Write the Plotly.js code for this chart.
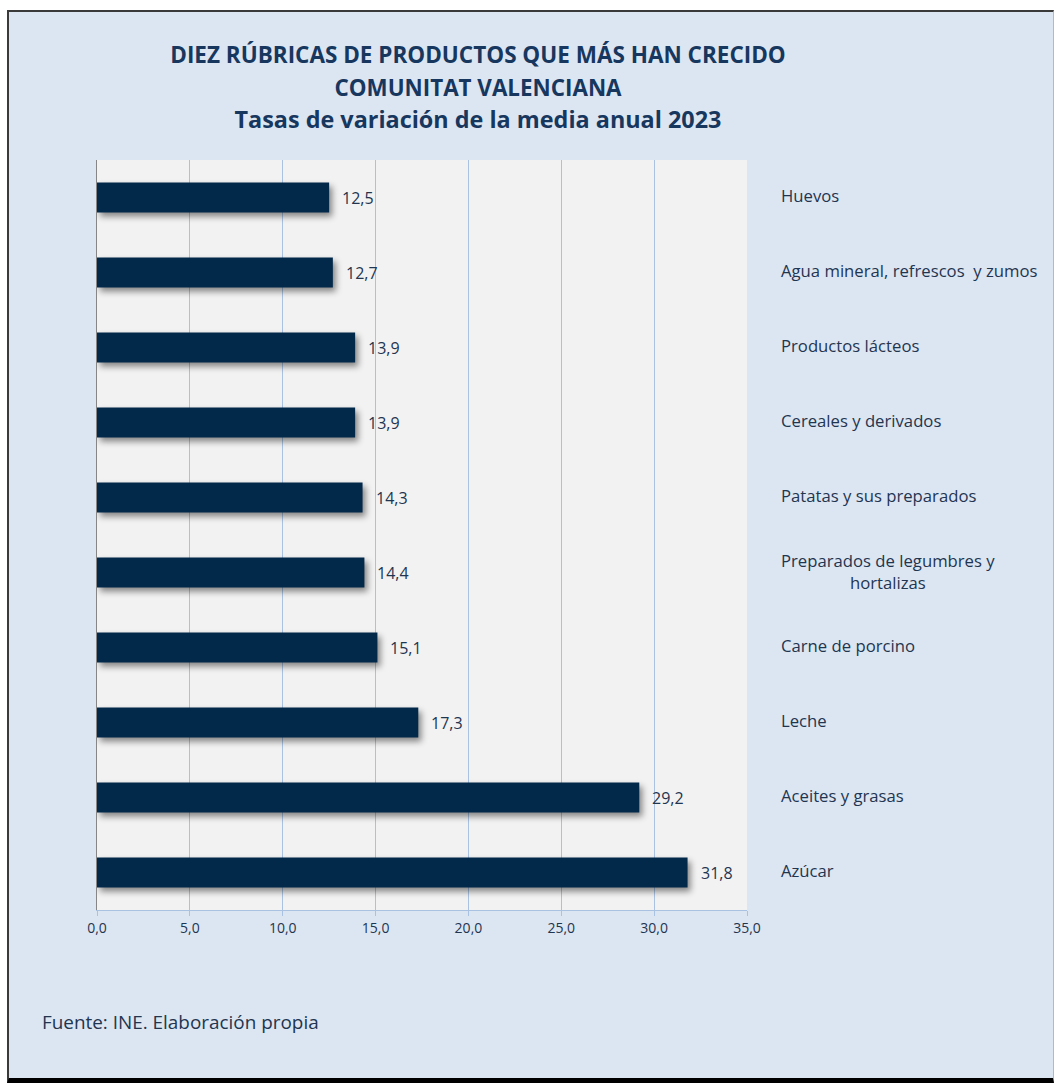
<!DOCTYPE html>
<html>
<head>
<meta charset="utf-8">
<script src="https://cdn.plot.ly/plotly-3.0.1.min.js"></script>
<style>
  html, body { margin: 0; padding: 0; background: #ffffff; }
  #frame {
    position: absolute; left: 7px; top: 10px; width: 1044px; height: 1066px;
    background: #dce6f2;
    border-top: 2px solid #3a3a3a; border-left: 2px solid #3a3a3a;
    border-right: 1px solid #b8b8b8; border-bottom: 5px solid #000000;
  }
  #chart { position: absolute; left: 0; top: 0; width: 1054px; height: 1084px; }
  #chart .barlayer .point path { filter: drop-shadow(3px 4px 3px rgba(0,0,0,0.45)); }
</style>
</head>
<body>
<div id="frame"></div>
<div id="chart"></div>
<script>
// Data (top to bottom as shown)
const categories = [
  "Huevos",
  "Agua mineral, refrescos  y zumos",
  "Productos lácteos",
  "Cereales y derivados",
  "Patatas y sus preparados",
  "Preparados de legumbres y<br>hortalizas",
  "Carne de porcino",
  "Leche",
  "Aceites y grasas",
  "Azúcar"
];
const values = [12.5, 12.7, 13.9, 13.9, 14.3, 14.4, 15.1, 17.3, 29.2, 31.8];
const tickVals = [0, 5, 10, 15, 20, 25, 30, 35];
const tickLabels = ["0,0", "5,0", "10,0", "15,0", "20,0", "25,0", "30,0", "35,0"];

const titleLines = [
  "DIEZ RÚBRICAS DE PRODUCTOS QUE MÁS HAN CRECIDO",
  "COMUNITAT VALENCIANA",
  "Tasas de variación de la media anual 2023"
];
const titleSizes = [22.5, 22.4, 23.4];
const sourceText = "Fuente: INE. Elaboración propia";

const FONT = "'Open Sans', Lato, sans-serif";
const TXT = "#1f3550";

const fmt = v => v.toFixed(1).replace(".", ",");

const trace = {
  type: "bar",
  orientation: "h",
  x: values,
  y: categories,
  width: 0.4,
  marker: { color: "#03294a", line: { width: 0 } },
  hoverinfo: "x+y",
  cliponaxis: false
};

const annotations = [];
values.forEach((v, i) => {
  annotations.push({
    x: v, y: categories[i], xref: "x", yref: "y",
    text: fmt(v), showarrow: false, xanchor: "left", yanchor: "middle",
    xshift: 11, font: { family: FONT, size: 16, color: TXT }
  });
});
categories.forEach((c, i) => {
  const multi = c.indexOf("<br>") >= 0;
  annotations.push({
    x: 1, y: c, xref: "paper", yref: "y",
    text: c, showarrow: false, xanchor: "left", yanchor: "middle",
    align: multi ? "center" : "left",
    xshift: 32, yshift: multi ? 1 : 2,
    font: { family: FONT, size: 16.7, color: TXT }
  });
});
annotations.push({
  x: -57 / 650, y: -112 / 750, xref: "paper", yref: "paper",
  text: sourceText, showarrow: false, xanchor: "left", yanchor: "middle",
  font: { family: FONT, size: 18.9, color: TXT }
});

const layout = {
  width: 1054, height: 1084,
  paper_bgcolor: "rgba(0,0,0,0)",
  plot_bgcolor: "#f2f2f2",
  margin: { l: 97, r: 307, t: 160, b: 174, pad: 0 },
  showlegend: false,
  title: {
    text: titleLines.map((t, i) => "<span style='font-size:" + titleSizes[i] + "px'>" + t + "</span>").join("<br>"),
    font: { family: FONT, size: 25, color: "#17375e", weight: "bold" },
    x: 478 / 1054, xanchor: "center", xref: "container",
    y: 1 - 63 / 1084, yanchor: "top", yref: "container"
  },
  xaxis: {
    range: [0, 35],
    tickvals: tickVals,
    ticktext: tickLabels,
    showgrid: true, gridcolor: "#a9c2e2", gridwidth: 1,
    zeroline: false,
    showline: true, linecolor: "#a9c2e2", linewidth: 1,
    ticks: "outside", ticklen: 5, tickcolor: "#a9c2e2",
    tickfont: { family: FONT, size: 14, color: TXT },
    fixedrange: true
  },
  yaxis: {
    type: "category",
    categoryorder: "array", categoryarray: categories,
    range: [9.5, -0.5],
    showticklabels: false,
    showgrid: false, zeroline: false,
    showline: true, linecolor: "#868686", linewidth: 1.5,
    ticks: "",
    fixedrange: true
  },
  annotations: annotations,
  bargap: 0.6
};

Plotly.newPlot("chart", [trace], layout, { displayModeBar: false, staticPlot: true });
</script>
</body>
</html>
